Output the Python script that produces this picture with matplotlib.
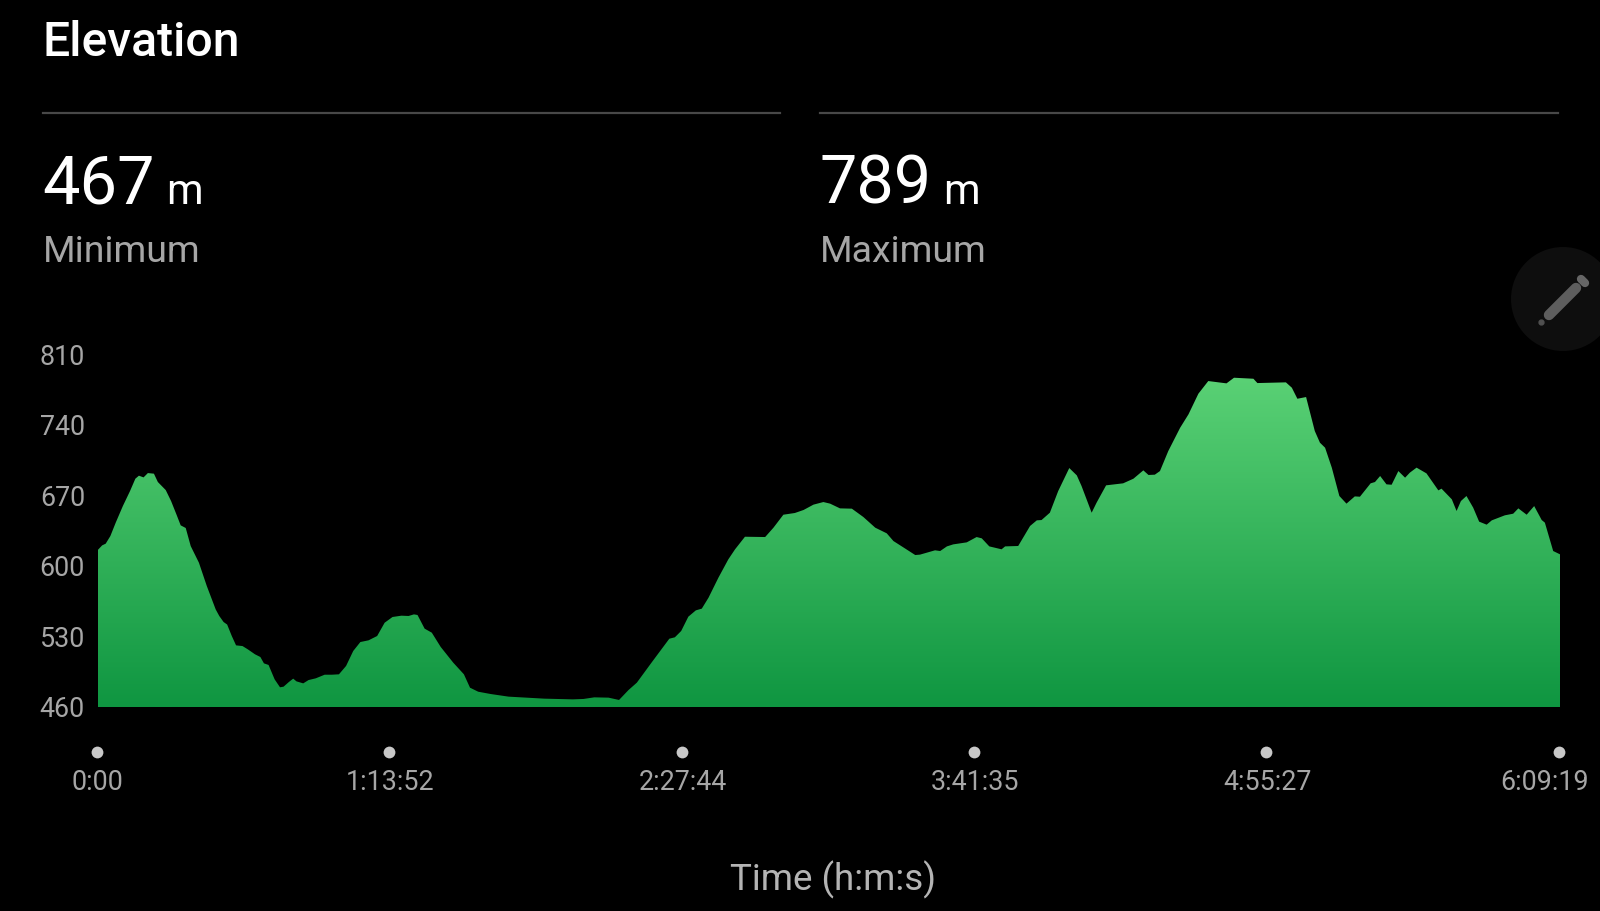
import numpy as np
import matplotlib
matplotlib.use("Agg")
import matplotlib.pyplot as plt
from matplotlib.colors import LinearSegmentedColormap
from matplotlib.patches import Circle
from matplotlib.transforms import ScaledTranslation

# time in minutes from start
time_min = [0, 1.17, 2.07, 3.25, 4.6, 6.4, 8.21, 9.56, 10.46, 11.63, 12.72, 14.25, 15.24, 17.23, 18.58, 19.93,
            21.01, 22.28, 23.54, 25.61, 27.6, 29.85, 30.75, 31.84, 32.74, 33.91, 34.99, 36.62, 37.97, 39.77,
            41.13, 42.03, 43.2, 44.73, 46.09, 46.99, 48.34, 49.42, 50.24, 51.95, 53.3, 55.11, 57.36, 59.16,
            60.97, 62.77, 64.58, 66.38, 68.45, 70.62, 72.51, 74.5, 76.75, 78.55, 79.91, 80.81, 82.61, 84.42,
            86.67, 89.83, 92.53, 94.07, 96.14, 99.3, 103.8, 112.83, 120.04, 122.74, 125.45, 129.06, 131.7,
            134.1, 136.2, 139.9, 144.4, 145.8, 147.4, 149.2, 151.1, 152.6, 154.3, 156.8, 159.3, 161, 163.5,
            168.6, 170.7, 173.2, 176.1, 178.3, 180.8, 183.3, 185, 187.5, 190.5, 193.4, 196.4, 199.3, 201,
            203.9, 206.5, 207.7, 211.5, 212.8, 214.5, 216.1, 219.5, 222, 223.3, 225.2, 228.3, 229.2, 232.5,
            235.5, 237.2, 238.4, 240.5, 242.6, 245.4, 247.3, 248.5, 251.05, 252.3, 254.7, 259, 261.6, 264.1,
            265.4, 267, 268.3, 270.4, 273.4, 275.5, 278, 280.5, 285.1, 287, 291.9, 292.9, 300.1, 301.6, 303,
            305.2, 307.4, 308.7, 310, 311.7, 313.6, 315.4, 317.5, 318.8, 321.5, 322.6, 323.9, 325.5, 326.8,
            328.5, 330.2, 331.4, 333.1, 335.6, 338.6, 339.4, 342, 343.2, 344.3, 345.7, 347.4, 348.9, 350.8,
            352.1, 355.4, 357.5, 358.8, 360.9, 362.8, 364.7, 365.5, 367.6, 369.32]
# elevation in metres
elevation = [615.8, 620.7, 622.4, 630, 643.3, 659.8, 674.7, 687, 690, 688.3, 692.6, 692, 683.7, 675.7, 664.8, 651.5,
             640.6, 638, 620, 603.5, 580.3, 557, 550.5, 544.5, 542, 530.6, 521.3, 520.6, 517.3, 512.4,
             509.7, 503.4, 501.8, 487.5, 479.6, 480.2, 484.9, 488.2, 485.5, 483.5, 486.8, 488.5, 492.1, 492.1,
             492.5, 500.8, 515.7, 524.6, 526.3, 530.6, 543.8, 549.5, 550.8, 550.5, 552.1, 551.5, 537.9, 533.9,
             519.7, 504.1, 492.5, 479.2, 475.2, 472.9, 470.3, 468.3, 467.6, 468, 469.6, 469.3, 467,
             476.9, 484.2, 504.1, 527.9, 529.3, 535.6, 549.8, 556.1, 557.8, 568.7, 588.6, 606.8, 616.8, 629.3,
             629, 638.3, 651.2, 652.9, 655.9, 661.2, 663.8, 662.2, 657.5, 657.2, 648.9, 638.3, 632.7, 625,
             617.7, 611.1, 611.5, 615.8, 615.1, 619.7, 621.7, 623.7, 629, 627.7, 619.7, 616.8, 619.7, 620.1,
             640, 645.6, 645.9, 653.2, 674.7, 697.6, 690.3, 679.7, 653.2, 663.2, 680.4, 682.4, 687, 695.3,
             690.7, 691, 694.6, 714.5, 737.7, 751, 771.5, 784.1, 781.8, 787.4, 786.4, 782.1, 782.8, 777.5, 766.5,
             768.2, 734.4, 722.8, 717.8, 697.9, 669.8, 662.2, 669.4, 669.1, 682.4, 683.7, 689.7, 681.4, 681,
             694.6, 688, 693, 698, 692.3, 675.4, 677.1, 666.5, 654.9, 664.8, 669.8, 658.2, 644.3, 641.3,
             645.6, 650.6, 652.2, 657.5, 651.2, 659.8, 645.9, 643.3, 615.1, 611.8]

y_ticks = [460, 530, 600, 670, 740, 810]
x_ticks = [0, 73.87, 147.73, 221.58, 295.45, 369.32]
x_labels = ["0:00", "1:13:52", "2:27:44", "3:41:35", "4:55:27", "6:09:19"]
stat_values = ["467", "789"]
stat_names = ["Minimum", "Maximum"]

W, H = 1600, 912
plt.rcParams["font.family"] = ["Roboto", "DejaVu Sans"]
fig = plt.figure(figsize=(W / 100, H / 100), dpi=100, facecolor="black")


def px(x, y):
    return x / W, 1 - y / H


# chrome layer in pixel coordinates
deco = fig.add_axes([0, 0, 1, 1], facecolor="none")
deco.set_xlim(0, W)
deco.set_ylim(H, 0)
deco.axis("off")
deco.add_patch(Circle((1563, 300), 52, facecolor="#0e0e0e", edgecolor="none"))
deco.plot([1549, 1576], [316, 289], color="#5e5e5e", lw=7.5, solid_capstyle="round")
deco.plot([1581, 1585], [280, 284], color="#666666", lw=6, solid_capstyle="round")
deco.plot([1541], [323], "o", color="#505050", ms=3.5)
deco.plot([43, 780], [113.5, 113.5], color="#484848", lw=1.6)
deco.plot([820, 1558], [113.5, 113.5], color="#484848", lw=1.6)

fig.text(*px(43, 43), "Elevation", color="white", fontsize=34.7, fontweight="medium", va="center", ha="left")
for xpos, val, name, unit_x in zip([42.5, 820], stat_values, stat_names, [166, 943]):
    fig.text(*px(xpos, 204), val, color="white", fontsize=48, va="baseline", ha="left")
    fig.text(*px(unit_x, 204), "m", color="white", fontsize=30, va="baseline", ha="left")
    fig.text(*px(xpos, 262), name, color="#a6a6a6", fontsize=26.9, va="baseline", ha="left")

# chart axes
left, right, top, bottom = 97.5, 1560, 356, 708
ax = fig.add_axes([left / W, 1 - bottom / H, (right - left) / W, (bottom - top) / H], facecolor="none")
ramp = LinearSegmentedColormap.from_list("g", ["#5AD175", "#0F9641"])
poly = ax.fill_between(time_min, elevation, y_ticks[0], facecolor="none", edgecolor="none")
im = ax.imshow(np.linspace(0, 1, 256).reshape(-1, 1), cmap=ramp, aspect="auto", origin="upper",
               extent=[x_ticks[0], x_ticks[-1], y_ticks[0], max(elevation)], interpolation="bilinear")
im.set_clip_path(poly.get_paths()[0], transform=ax.transData)
ax.set_xlim(x_ticks[0], x_ticks[-1])
ax.set_ylim(y_ticks[0], y_ticks[-1])
for s in ax.spines.values():
    s.set_visible(False)
ax.set_yticks(y_ticks)
ax.set_xticks(x_ticks)
ax.set_xticklabels(x_labels)
ax.tick_params(axis="y", length=0, pad=9, labelsize=19.4, labelcolor="#a6a6a6")
ax.tick_params(axis="x", length=0, pad=44, labelsize=19.4, labelcolor="#a6a6a6")
dot_shift = ScaledTranslation(-1 / 100, -1 / 100, fig.dpi_scale_trans)
ax.plot(x_ticks, [-44 / (bottom - top)] * len(x_ticks), "o", color="#c8c8c8", ms=8.5, mec="none",
        transform=ax.get_xaxis_transform() + dot_shift, clip_on=False)
last = ax.get_xticklabels()[-1]
last.set_transform(last.get_transform() + ScaledTranslation(-15 / 100, 0, fig.dpi_scale_trans))
for lab in ax.get_yticklabels():
    lab.set_transform(lab.get_transform() + ScaledTranslation(0, 1.5 / 100, fig.dpi_scale_trans))

fig.text(*px(833, 880), "Time (h:m:s)", color="#b4b4b4", fontsize=26.5, va="center", ha="center")

fig.savefig("out.png", dpi=100, facecolor="black")
